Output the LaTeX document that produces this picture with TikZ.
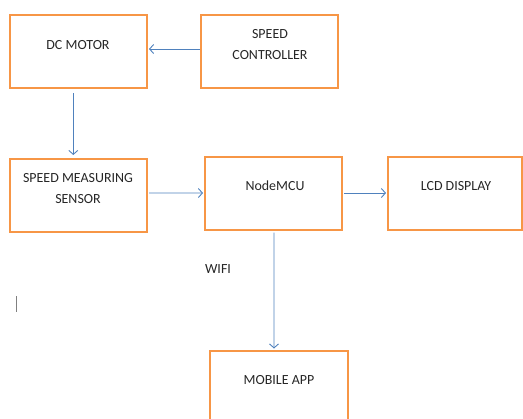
\documentclass[tikz,border=0pt]{standalone}
\usepackage{fontspec}
\setmainfont{Carlito}
\usetikzlibrary{arrows.meta}
\definecolor{boxorange}{HTML}{F79646}
\definecolor{arrowblue}{HTML}{4F81BD}
\definecolor{txtgray}{HTML}{262626}
\begin{document}
\begin{tikzpicture}[x=1bp,y=-1bp,
  blockbox/.style={draw=boxorange,line width=2bp,minimum width=137bp,minimum height=73bp,inner sep=0pt},
  lbl/.style={font=\fontsize{14}{21}\selectfont,text=txtgray,align=center,inner sep=0pt},
  conn/.style={draw=arrowblue,line width=0.9bp,-{Straight Barb[length=4bp,width=9bp]}}]
\useasboundingbox (0,0) rectangle (523,418);
\clip (0,0) rectangle (523,418);
% boxes
\node[blockbox] (motor) at (78.5,51.5) {};
\node[blockbox] (ctrl) at (269.5,51.5) {};
\node[blockbox] (sensor) at (78.5,195.5) {};
\node[blockbox] (mcu) at (273.5,193.5) {};
\node[blockbox,minimum width=134bp] (lcd) at (455,193.5) {};
\node[blockbox,minimum width=138bp,minimum height=90bp] (app) at (279,396) {};
% texts
\node[lbl] (tmotor) at (78,45) {DC MOTOR};
\node[lbl] (tctrl) at (270,44.5) {SPEED\\CONTROLLER};
\node[lbl] (tsensor) at (78,188.5) {SPEED MEASURING\\SENSOR};
\node[lbl] (tmcu) at (275,186) {NodeMCU};
\node[lbl] (tlcd) at (456,186) {LCD DISPLAY};
\node[lbl] (tapp) at (279,380) {MOBILE APP};
\node[lbl] (wifi) at (218,269) {WIFI};
% connectors
\draw[conn] ([yshift=2.5bp]ctrl.west) -- ([yshift=2.5bp,xshift=1bp]motor.east);
\draw[conn] ([xshift=-5.2bp,yshift=-4bp]motor.south) -- ([xshift=-5.2bp,yshift=3bp]sensor.north);
\draw[conn] ([yshift=2.5bp,xshift=1bp]sensor.east) -- ([xshift=-1bp,yshift=0.5bp]mcu.west);
\draw[conn] ([xshift=1bp,yshift=0.5bp]mcu.east) -- ([xshift=-1bp,yshift=0.5bp]lcd.west);
\draw[conn] ([xshift=0.5bp,yshift=-1.5bp]mcu.south) -- ([xshift=-5bp,yshift=1.5bp]app.north);
% text cursor mark
\coordinate (c1) at (16,296);
\coordinate (c2) at (16,312);
\draw[gray,line width=0.8bp] (c1) -- (c2);
\end{tikzpicture}
\end{document}
